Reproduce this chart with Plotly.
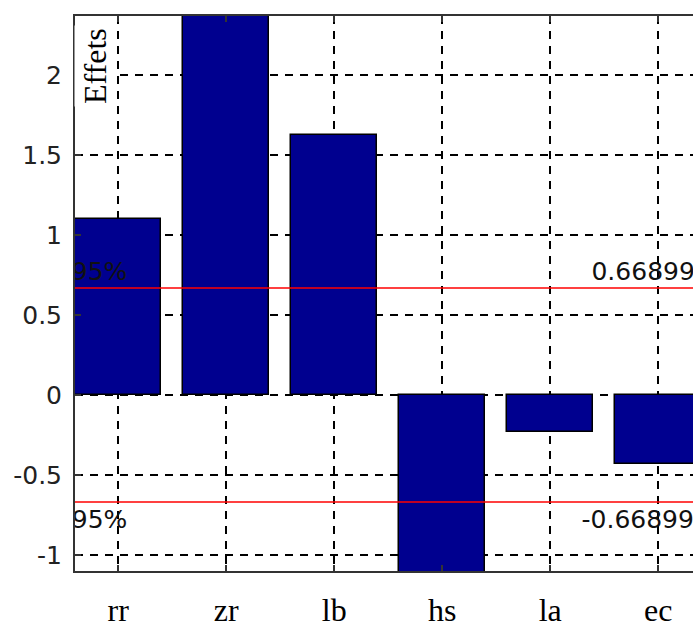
import plotly.graph_objects as go

categories = ["rr", "zr", "lb", "hs", "la", "ec"]
effects = [1.10, 2.60, 1.625, -1.30, -0.231, -0.431]
threshold = 0.66899

yticks = [-1, -0.5, 0, 0.5, 1, 1.5, 2]
ytick_text = ["-1", "-0.5", "0", "0.5", "1", "1.5", "2"]

label_text = ["95%", "0.66899", "95%", "-0.66899"]
label_x = [0.57, 5.382, 0.57, 5.29]
label_y = [0.76, 0.76, -0.79, -0.79]

positions = list(range(1, len(categories) + 1))

fig = go.Figure()
fig.add_trace(go.Bar(
    x=positions, y=effects, width=0.8,
    marker=dict(color="#00008F", line=dict(color="black", width=1.5)),
    showlegend=False, hoverinfo="skip",
))
fig.add_trace(go.Scatter(
    x=label_x, y=label_y, text=label_text, mode="text",
    textposition="middle right",
    textfont=dict(family="DejaVu Sans", size=25, color="#111"),
    cliponaxis=True, showlegend=False, hoverinfo="skip",
))

for v in (threshold, -threshold):
    fig.add_shape(type="line", xref="x domain", x0=0, x1=1, yref="y", y0=v, y1=v,
                  line=dict(color="red", width=1.5), layer="above")

fig.add_annotation(
    text="Effets", textangle=-90, xref="paper", yref="paper",
    x=0.0, y=1.0, xanchor="left", yanchor="top", showarrow=False,
    xshift=-1, yshift=-9,
    font=dict(family="Liberation Serif", size=32, color="black"),
    bgcolor="white", borderpad=2,
)

axis_color = "#333"
fig.update_layout(
    width=693, height=624,
    margin=dict(l=75, r=0, t=16, b=53, autoexpand=False),
    paper_bgcolor="white", plot_bgcolor="white",
    bargap=0,
    xaxis=dict(
        range=[0.6, 6.322], tickvals=positions, ticktext=categories,
        showline=True, linecolor=axis_color, linewidth=2, mirror="ticks",
        ticks="inside", ticklen=6, tickwidth=1.5, tickcolor=axis_color,
        showgrid=True, gridcolor="black", gridwidth=1.5, griddash="8px,7px",
        zeroline=False, automargin=False,
        tickfont=dict(family="Liberation Serif", size=32, color="black"),
        ticklabelstandoff=10,
    ),
    yaxis=dict(
        range=[-1.1, 2.369], tickvals=yticks, ticktext=ytick_text,
        showline=True, linecolor=axis_color, linewidth=2, mirror=False,
        ticks="inside", ticklen=6, tickwidth=1.5, tickcolor=axis_color,
        showgrid=True, gridcolor="black", gridwidth=1.5, griddash="8px,7px",
        zeroline=False, automargin=False,
        tickfont=dict(family="DejaVu Sans", size=25, color="#222"),
        ticklabelstandoff=6,
    ),
)

# remove the default 8px page margin so the 693x624 figure fills the window exactly
fig.write_html("out.html", config={"displayModeBar": False},
               post_script="document.body.style.margin='0';")
